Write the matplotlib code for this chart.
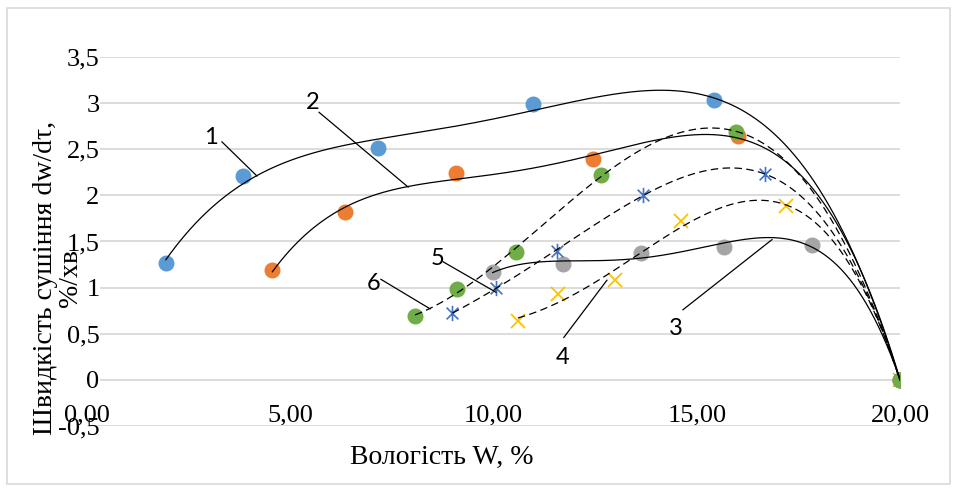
import numpy as np
import matplotlib
matplotlib.use('Agg')
import matplotlib.pyplot as plt
from matplotlib.path import Path
from matplotlib.patches import Rectangle

# moisture W, % and drying rate dw/dt, %/min
w1 = [1.94, 3.84, 7.16, 10.96, 15.42, 20.0]
v1 = [1.27, 2.21, 2.51, 2.99, 3.03, 0.0]
w2 = [4.56, 6.35, 9.08, 12.44, 16.01, 20.0]
v2 = [1.19, 1.82, 2.24, 2.39, 2.64, 0.0]
w3 = [9.98, 11.71, 13.62, 15.67, 17.83, 20.0]
v3 = [1.17, 1.26, 1.37, 1.44, 1.46, 0.0]
w4 = [10.60, 11.59, 12.99, 14.61, 17.20, 20.0]
v4 = [0.64, 0.93, 1.08, 1.72, 1.88, 0.0]
w5 = [8.99, 10.06, 11.55, 13.67, 16.68, 20.0]
v5 = [0.72, 1.00, 1.40, 2.00, 2.23, 0.0]
w6 = [8.07, 9.10, 10.55, 12.64, 15.97, 20.0]
v6 = [0.69, 0.98, 1.39, 2.22, 2.69, 0.0]

xticks = [0, 5, 10, 15, 20]
xtick_labels = ['0,00', '5,00', '10,00', '15,00', '20,00']
yticks = [-0.5, 0, 0.5, 1, 1.5, 2, 2.5, 3, 3.5]
ytick_labels = ['-0,5', '0', '0,5', '1', '1,5', '2', '2,5', '3', '3,5']

# curve numbers: text position, leader line start, leader line end
curve_names = ['1', '2', '3', '4', '5', '6']
name_xy = [(3.05, 2.63), (5.54, 3.01), (14.49, 0.56), (11.69, 0.24), (8.63, 1.32), (7.04, 1.05)]
lead_from = [(3.32, 2.58), (5.71, 2.90), (14.66, 0.76), (11.73, 0.46), (8.76, 1.28), (7.23, 1.09)]
lead_to = [(4.18, 2.21), (7.90, 2.09), (16.85, 1.52), (12.79, 1.08), (10.06, 0.95), (8.44, 0.77)]

# excel-like "star" marker: x with a vertical bar
star = Path([(-1, -1), (1, 1), (-1, 1), (1, -1), (0, -1.3), (0, 1.3)],
            [Path.MOVETO, Path.LINETO, Path.MOVETO, Path.LINETO, Path.MOVETO, Path.LINETO])

series = [
    (w1, v1, dict(marker='o', color='#5B9BD5', ms=10.5, ls='none'), '-'),
    (w2, v2, dict(marker='o', color='#ED7D31', ms=10.5, ls='none'), '-'),
    (w3, v3, dict(marker='o', color='#A5A5A5', ms=10.5, ls='none'), '-'),
    (w4, v4, dict(marker='x', color='#FFC000', ms=10, mew=1.3, ls='none'), '--'),
    (w5, v5, dict(marker=star, color='#4472C4', ms=11, mew=1.2, ls='none'), '--'),
    (w6, v6, dict(marker='o', color='#70AD47', ms=10.5, ls='none'), '--'),
]

fig = plt.figure(figsize=(9.56, 4.9), dpi=100)
ax = fig.add_axes([87 / 956, (490 - 426) / 490, 813 / 956, 369 / 490])

for w, v, style, ls in series:
    ax.plot(w, v, zorder=3, **style)

# polynomial trend lines (order 4), as in the excel chart
for w, v, style, ls in series:
    c = np.polyfit(w, v, 4)
    xx = np.linspace(min(w), max(w), 300)
    if ls == '--':
        ax.plot(xx, np.polyval(c, xx), color='black', lw=0.9, dashes=(6, 3.5), zorder=4)
    else:
        ax.plot(xx, np.polyval(c, xx), color='black', lw=0.9, zorder=4)

for name, t, a, b in zip(curve_names, name_xy, lead_from, lead_to):
    ax.text(t[0], t[1], name, fontsize=17, family='Lato', ha='center', va='center')
    ax.plot([a[0], b[0]], [a[1], b[1]], color='black', lw=0.9, zorder=5)

ax.set_xlim(0, 20)
ax.set_ylim(-0.5, 3.5)
ax.set_yticks(yticks)
ax.set_yticklabels(ytick_labels)
ax.set_xticks(xticks)
ax.set_xticklabels(xtick_labels)
ax.grid(axis='y', color='#D9D9D9', lw=1.3)
ax.set_axisbelow(True)
for s in ax.spines.values():
    s.set_visible(False)
ax.spines['bottom'].set_position(('data', 0))
ax.tick_params(axis='both', length=0, labelsize=19)
ax.tick_params(axis='x', pad=18)
ax.tick_params(axis='y', pad=-9)
for lbl in ax.get_xticklabels() + ax.get_yticklabels():
    lbl.set_family('Liberation Serif')
for lbl in ax.get_yticklabels()[1:]:
    lbl.set_bbox(dict(facecolor='white', edgecolor='none', pad=0.5))

fig.text(442 / 956, 1 - 457 / 490, 'Вологість W, %', fontsize=20, family='Liberation Serif',
         ha='center', va='center')
fig.text(58 / 956, 1 - 278 / 490, 'Швидкість сушіння dw/dτ,\n%/хв', fontsize=20,
         family='Liberation Serif', ha='center', va='center', rotation=90, linespacing=0.95,
         multialignment='center')

fig.patches.append(Rectangle((7 / 956, 6 / 490), 943 / 956, 476 / 490, transform=fig.transFigure,
                             fill=False, edgecolor='#D9D9D9', lw=1.2))

fig.savefig('out.png', dpi=100)
